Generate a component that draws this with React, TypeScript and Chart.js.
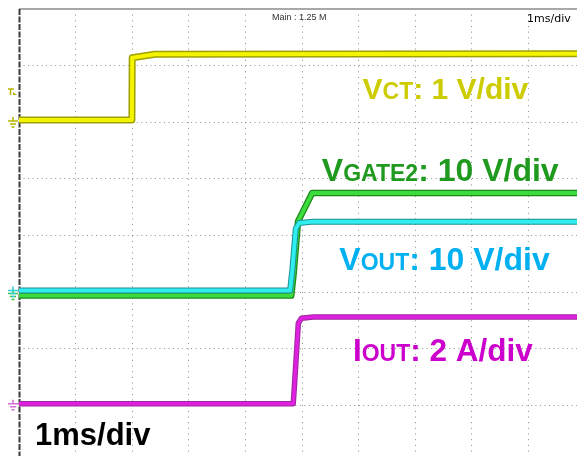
import { useEffect, useRef } from "react";
import { Chart, registerables } from "chart.js";

Chart.register(...registerables);

// Units: x in time divisions (1 ms/div), y in screen divisions counted from the bottom of the graticule.
const vctX = [0, 1.995, 2.0, 2.4, 10];
const vctY = [6.04, 6.04, 7.14, 7.2, 7.21];

const vgate2X = [0, 4.81, 4.85, 4.93, 5.18, 10];
const vgate2Y = [2.94, 2.94, 3.3, 4.25, 4.75, 4.75];

const voutX = [0, 4.79, 4.83, 4.89, 4.95, 5.2, 10];
const voutY = [3.03, 3.03, 3.4, 4.12, 4.22, 4.245, 4.245];

const ioutX = [0, 4.845, 4.87, 4.935, 4.99, 5.2, 10];
const ioutY = [1.03, 1.03, 1.4, 2.45, 2.54, 2.56, 2.56];

// Channel labels
const labelMain = ["V", "V", "V", "I"];
const labelSub = ["CT", "GATE2", "OUT", "OUT"];
const labelRest = [": 1 V/div", ": 10 V/div", ": 10 V/div", ": 2 A/div"];
const labelColors = ["#cccc00", "#1f9a1f", "#00b0f0", "#cc00cc"];

const timebaseLabel = "1ms/div";
const headerMain = "Main : 1.25 M";
const headerTimebase = "1ms/div";

const pts = (xs: number[], ys: number[]) => xs.map((x, i) => ({ x, y: ys[i] }));

const FONT = "'Liberation Sans', Arial, sans-serif";

function drawGround(ctx: CanvasRenderingContext2D, y: number, color: string) {
  ctx.save();
  ctx.strokeStyle = color;
  ctx.lineWidth = 1.5;
  ctx.beginPath();
  ctx.moveTo(13, y - 4);
  ctx.lineTo(13, y);
  ctx.moveTo(8, y);
  ctx.lineTo(18, y);
  ctx.moveTo(10, y + 3);
  ctx.lineTo(16, y + 3);
  ctx.moveTo(11.5, y + 6);
  ctx.lineTo(14.5, y + 6);
  ctx.stroke();
  ctx.restore();
}

const scopePlugin = {
  id: "scope",
  beforeDatasetsDraw(chart: any) {
    const { ctx, chartArea } = chart;
    ctx.save();
    ctx.strokeStyle = "#a8a8a8";
    ctx.lineWidth = 2;
    ctx.beginPath();
    ctx.moveTo(chartArea.left, chartArea.top);
    ctx.lineTo(chartArea.right, chartArea.top);
    ctx.stroke();
    ctx.strokeStyle = "#3a3a3a";
    ctx.lineWidth = 2;
    ctx.setLineDash([6, 1.5]);
    ctx.beginPath();
    ctx.moveTo(chartArea.left + 0.5, chartArea.top);
    ctx.lineTo(chartArea.left + 0.5, chartArea.bottom);
    ctx.stroke();
    ctx.restore();
  },
  afterDraw(chart: any) {
    const { ctx, scales } = chart;
    const xs = scales.x;
    const ys = scales.y;
    ctx.save();
    // header texts
    ctx.fillStyle = "#333";
    ctx.font = `9px ${FONT}`;
    ctx.textBaseline = "alphabetic";
    ctx.fillText(headerMain, 272, 20);
    ctx.fillStyle = "#000";
    ctx.font = "11px 'DejaVu Sans', sans-serif";
    ctx.fillText(headerTimebase, 527, 22);

    // trigger marker
    const trigY = 89;
    ctx.strokeStyle = "#b4b400";
    ctx.fillStyle = "#b4b400";
    ctx.lineWidth = 1.5;
    ctx.beginPath();
    ctx.moveTo(8, trigY);
    ctx.lineTo(14, trigY);
    ctx.moveTo(10.5, trigY);
    ctx.lineTo(10.5, trigY + 6);
    ctx.stroke();
    ctx.beginPath();
    ctx.moveTo(13, trigY + 3);
    ctx.lineTo(17, trigY + 6);
    ctx.lineTo(13, trigY + 6);
    ctx.closePath();
    ctx.fill();

    // ground markers at channel zero levels
    drawGround(ctx, ys.getPixelForValue(vctY[0]) + 1, "#b4b400");
    drawGround(ctx, ys.getPixelForValue(vgate2Y[0]) - 2, "#40c040");
    drawGround(ctx, ys.getPixelForValue(voutY[0]), "#30d0d8");
    drawGround(ctx, ys.getPixelForValue(ioutY[0]), "#d070d0");

    // channel labels
    const anchors = [
      [6.07, 6.41],
      [5.35, 4.97],
      [5.66, 3.39],
      [5.9, 1.78],
    ];
    const mainSize = [30, 32, 32, 31.5];
    const subSize = [23, 23, 23, 23];
    for (let i = 0; i < labelMain.length; i++) {
      let x = xs.getPixelForValue(anchors[i][0]);
      const y = ys.getPixelForValue(anchors[i][1]);
      ctx.fillStyle = labelColors[i];
      ctx.font = `bold ${mainSize[i]}px ${FONT}`;
      ctx.fillText(labelMain[i], x, y);
      x += ctx.measureText(labelMain[i]).width;
      ctx.font = `bold ${subSize[i]}px ${FONT}`;
      ctx.fillText(labelSub[i], x, y);
      x += ctx.measureText(labelSub[i]).width;
      ctx.font = `bold ${mainSize[i]}px ${FONT}`;
      ctx.fillText(labelRest[i], x, y);
    }

    ctx.fillStyle = "#000";
    ctx.font = `bold 31px ${FONT}`;
    ctx.fillText(timebaseLabel, 35, 445);
    ctx.restore();
  },
};

function trace(data: { x: number; y: number }[], color: string, width: number, order: number) {
  return {
    data,
    borderColor: color,
    borderWidth: width,
    pointRadius: 0,
    tension: 0,
    fill: false,
    borderJoinStyle: "round" as const,
    order,
  };
}

export default function App() {
  const ref = useRef<HTMLCanvasElement>(null);
  useEffect(() => {
    const canvas = ref.current!;
    const vct = pts(vctX, vctY);
    const vg = pts(vgate2X, vgate2Y);
    const vo = pts(voutX, voutY);
    const io = pts(ioutX, ioutY);
    const chart = new Chart(canvas, {
      type: "line",
      data: {
        datasets: [
          trace(vct, "#f4f400", 4, 1),
          trace(vct, "#a0a000", 7, 2),
          trace(vo, "#30eef0", 4, 3),
          trace(vo, "#1c8f94", 6, 4),
          trace(vg, "#3ddc3d", 4, 5),
          trace(vg, "#1a8a1a", 6.5, 6),
          trace(io, "#e020e0", 3.5, 7),
          trace(io, "#9a2a9a", 5.5, 8),
        ] as any,
      },
      options: {
        responsive: false,
        animation: false,
        devicePixelRatio: 1,
        events: [],
        layout: { padding: { left: 19, top: 9, right: 1, bottom: 1 } },
        plugins: { legend: { display: false }, tooltip: { enabled: false }, title: { display: false } },
        scales: {
          x: {
            type: "linear",
            min: 0,
            max: 10,
            ticks: { display: false, stepSize: 1 },
            grid: {
              drawTicks: false,
              lineWidth: 1,
              color: (c: any) => (c.tick && (c.tick.value === 0 || c.tick.value === 10) ? "rgba(0,0,0,0)" : "#8c8c8c"),
            },
            border: { display: false, dash: [1, 4.66] },
          },
          y: {
            type: "linear",
            min: 0,
            max: 8,
            ticks: { display: false, stepSize: 1 },
            grid: {
              drawTicks: false,
              lineWidth: 1,
              color: (c: any) => (c.tick && (c.tick.value === 8 || c.tick.value === 0) ? "rgba(0,0,0,0)" : "#8c8c8c"),
            },
            border: { display: false, dash: [1, 3.53] },
          },
        },
      } as any,
      plugins: [scopePlugin],
    });
    return () => chart.destroy();
  }, []);
  return (
    <div style={{ position: "fixed", left: 0, top: 0, width: 577, height: 456, overflow: "hidden", background: "#fff" }}>
      <canvas ref={ref} width={586} height={463} style={{ display: "block", width: 586, height: 463 }} />
    </div>
  );
}
